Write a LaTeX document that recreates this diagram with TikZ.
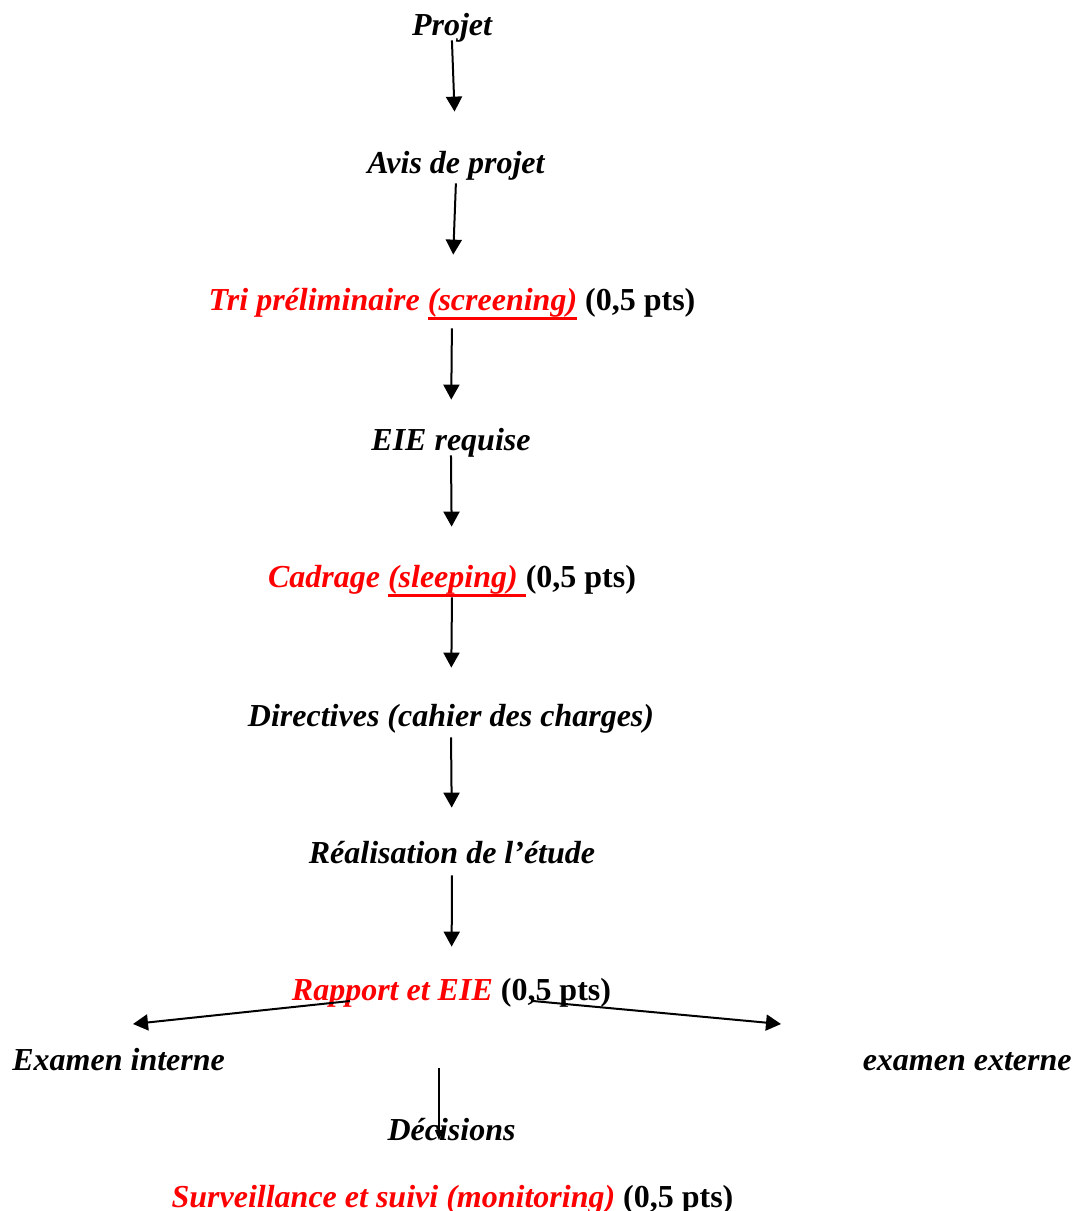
\documentclass[tikz,border=0pt]{standalone}
\usepackage{fontspec}
\setmainfont{Liberation Serif}
\usetikzlibrary{arrows.meta}

% thick underline in the current colour
\newcommand{\thickul}[1]{\setbox0=\hbox{#1}\rlap{\rule[-4.75pt]{\wd0}{1.5pt}}\box0\relax}
\newcommand{\pts}{\textup{(0,5 pts)}}

\begin{document}
\begin{tikzpicture}
  [x=0.5pt,y=-0.5pt,>={Triangle[length=7.5pt,width=8pt]},
   every node/.style={inner sep=0pt,anchor=base,text height=11pt,text depth=3.5pt,
     font=\fontsize{16}{19}\selectfont\bfseries\itshape},
   link/.style={->,line width=1pt}]
  \useasboundingbox (0,0) rectangle (1074,1211);

  \node (projet) at (452,35)  {Projet};
  \node (avis) at (456,173)  {Avis de projet};
  \node (tri) at (452,310)  {\color{red}Tri préliminaire \thickul{(screening)} \color{black}\pts};
  \node (eie) at (451,450)  {EIE requise};
  \node (cadrage) at (452,587)  {\color{red}Cadrage \thickul{(sleeping)\ }\color{black}\pts};
  \node (directives) at (451,726)  {Directives (cahier des charges)};
  \node (etude) at (452,863)  {Réalisation de l’étude};
  \node (rapport) at (451.5,1000)  {\color{red}Rapport et EIE \color{black}\pts};
  \node[anchor=base west] (interne) at (12,1070)  {Examen interne};
  \node[anchor=base east] (externe) at (1072,1070)  {examen externe};
  \node (decisions) at (451.5,1140)  {Décisions};
  \node (suivi) at (452.5,1207)  {\color{red}Surveillance et suivi (monitoring) \color{black}\pts};

  % start gap / end gap (pt)
  \foreach \from/\to/\sg/\eg in {projet/avis/-1/19.5,avis/tri/1.5/16.5,tri/eie/5.5/14,
      eie/cadrage/-1/19,cadrage/directives/1.5/18,directives/etude/2/16.5,etude/rapport/2.5/15.5}
    \draw[link,shorten <=\sg pt,shorten >=\eg pt] (\from.south) -- (\to.north);

  \coordinate (leftend) at (133,1024);
  \coordinate (rightend) at (781,1024);
  \coordinate (dectop) at (439,1068);
  \draw[link] ([xshift=-50.75pt,yshift=-0.5pt]rapport.base) -- (leftend);
  \draw[link] ([xshift=40.75pt,yshift=-0.5pt]rapport.base) -- (rightend);
  \draw[->,line width=0.7pt,>={Triangle[length=5pt,width=4pt]}] (dectop) -- (dectop |- decisions.base);

\end{tikzpicture}
\end{document}
